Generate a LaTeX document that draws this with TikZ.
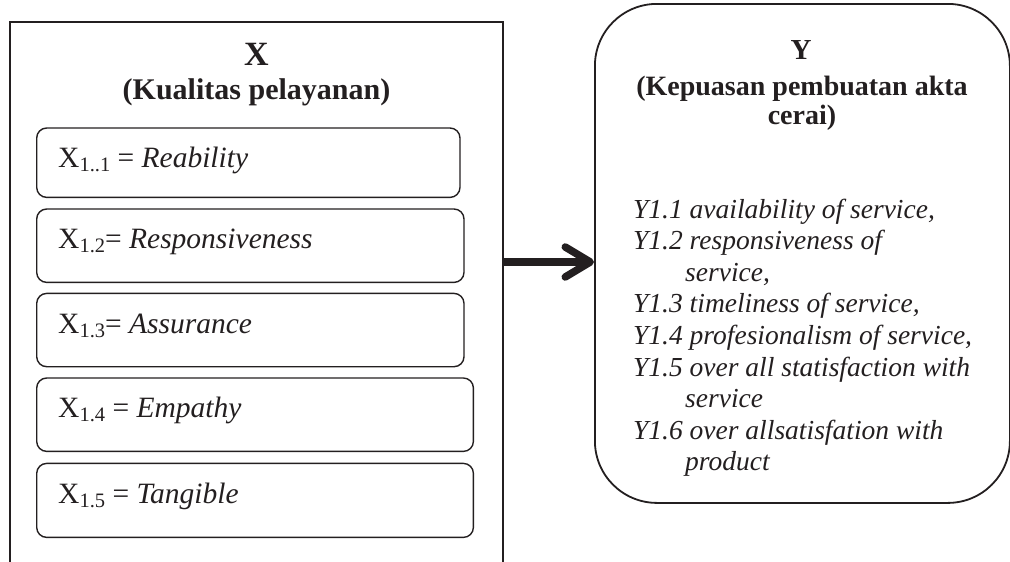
\documentclass[tikz,border=0pt]{standalone}
\usepackage{fontspec}
\setmainfont{Liberation Serif}
\usetikzlibrary{arrows.meta}
\definecolor{ink}{RGB}{35,31,32}
\newcommand\xsub[1]{\raisebox{-4pt}{\fontsize{20.5}{20}\selectfont #1}}
\begin{document}
\begin{tikzpicture}[x=1pt,y=-1pt,
  frame/.style={draw=ink, line width=1.4pt},
  itembox/.style={draw=ink, line width=1.4pt, rounded corners=10pt, anchor=north west, inner sep=0pt},
  itemtext/.style={anchor=base west, inner sep=0pt, text=ink, font=\fontsize{29.5}{32}\selectfont},
  ytext/.style={anchor=base west, inner sep=0pt, text=ink, font=\fontsize{27.5}{31}\selectfont\itshape},
  ttl/.style={anchor=base, inner sep=0pt, text=ink},
  bigarrow/.style={draw=ink, line width=7.5pt, -{Straight Barb[length=25pt, width=30pt, line cap=round, line join=round]}}
]
\useasboundingbox (0,0) rectangle (1010,562);

% left frame (open at bottom)
\draw[frame] (10,562) -- (10,22) -- (503,22) -- (503,562);
\coordinate (xr) at (503,262);

\node[ttl, font=\fontsize{34}{36}\selectfont\bfseries] (xt) at (256.5,65) {X};
\node[ttl, font=\fontsize{30}{32}\selectfont\bfseries] (xs) at (256.5,99) {(Kualitas pelayanan)};

\node[itembox, minimum width=423.3pt, minimum height=69.4pt] (b1) at (36,127.3) {};
\node[itembox, minimum width=427.3pt, minimum height=73.4pt] (b2) at (36,208.3) {};
\node[itembox, minimum width=427.3pt, minimum height=73.3pt] (b3) at (36,292.7) {};
\node[itembox, minimum width=436.7pt, minimum height=73.4pt] (b4) at (36,377.3) {};
\node[itembox, minimum width=436.7pt, minimum height=74pt] (b5) at (36,462.7) {};

\node[itemtext] (t1) at (58,167) {X\xsub{1..1} = \textit{Reability}};
\node[itemtext] (t2) at (58,248) {X\xsub{1.2}= \textit{Responsiveness}};
\node[itemtext] (t3) at (58,333) {X\xsub{1.3}= \textit{Assurance}};
\node[itemtext] (t4) at (58,417) {X\xsub{1.4} = \textit{Empathy}};
\node[itemtext] (t5) at (58,503) {X\xsub{1.5} = \textit{Tangible}};

% right box
\node[draw=ink, line width=1.8pt, rounded corners=62pt, minimum width=415pt, minimum height=499pt, anchor=north west, inner sep=0pt] (ybox) at (594,3) {};

\node[ttl, font=\fontsize{29}{30}\selectfont\bfseries] (yt) at (801,59) {Y};
\node[ttl, font=\fontsize{28}{30}\selectfont\bfseries] (ys1) at (802,95) {(Kepuasan pembuatan akta};
\node[ttl, font=\fontsize{28}{30}\selectfont\bfseries] (ys2) at (802,124) {cerai)};

\node[ytext] (y1) at (633,218) {Y1.1 availability of service,};
\node[ytext] (y2) at (633,249.6) {Y1.2 responsiveness of};
\node[ytext] (y2b) at (685,281.2) {service,};
\node[ytext] (y3) at (633,312.8) {Y1.3 timeliness of service,};
\node[ytext] (y4) at (633,344.4) {Y1.4 profesionalism of service,};
\node[ytext] (y5) at (633,376) {Y1.5 over all statisfaction with};
\node[ytext] (y5b) at (685,407.6) {service};
\node[ytext] (y6) at (633,439.2) {Y1.6 over allsatisfation with};
\node[ytext] (y6b) at (685,470.8) {product};

\draw[bigarrow] (xr) -- (xr -| ybox.west);
\end{tikzpicture}
\end{document}
